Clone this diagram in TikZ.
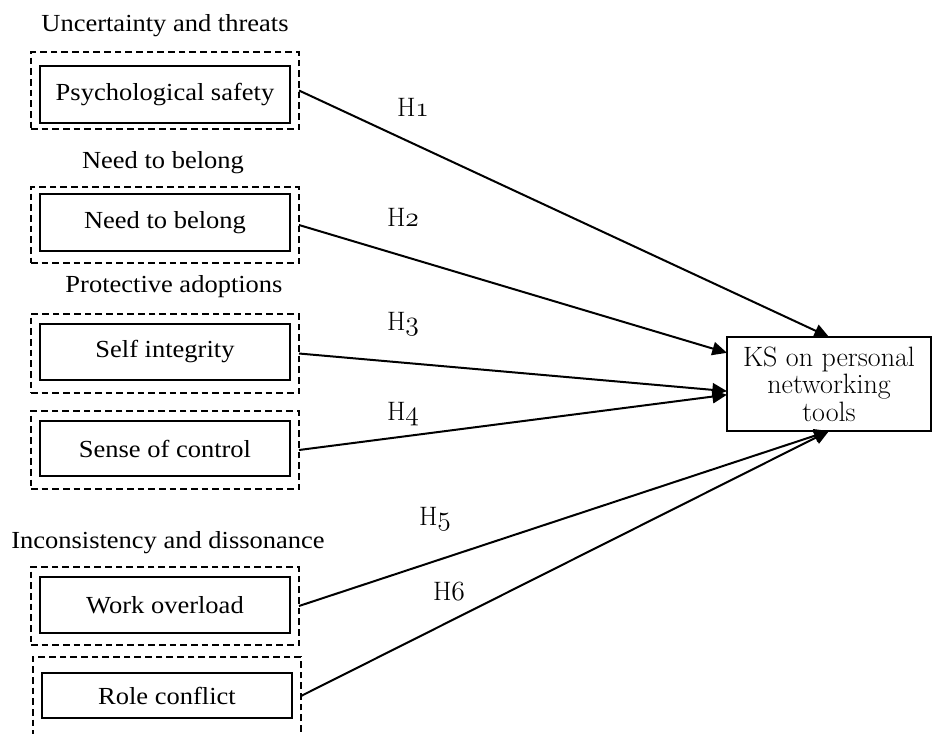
\documentclass[tikz,border=0pt]{standalone}
\usepackage{fontspec}
\newfontfamily\tnr[FakeStretch=1.08]{Liberation Serif}
\newcommand\osnum[1]{{\usefont{OML}{lmm}{m}{it}#1}}
\usetikzlibrary{arrows.meta}
\begin{document}
\begin{tikzpicture}[x=0.75pt, y=-0.75pt,
		every node/.style = {inner sep=0pt, outer sep=0pt},
		outbox/.style = {draw, line width=1.1pt, dash pattern=on 5pt off 3pt, minimum width=268*0.75pt},
		inbox/.style = {draw, line width=1.1pt, minimum width=250*0.75pt, font=\tnr\fontsize{18.4}{22}\selectfont},
		group/.style = {anchor=base, font=\tnr\fontsize{18.4}{22}\selectfont},
		hyp/.style = {anchor=base west, font=\fontsize{20}{22}\selectfont},
		link/.style = {line width=1.5pt, -{Triangle[length=11pt, width=10pt]}}]
		\clip (0,0) rectangle (933,733);
		\node[group] (g1) at (165,31) {Uncertainty and threats};
		\node[outbox, minimum height=77*0.75pt] (o1) at (165,90.5) {};
		\node[inbox, minimum height=57*0.75pt] (psy) at (165,94.5) {Psychological safety};
		\node[group] (g2) at (163,168) {Need to belong};
		\node[outbox, minimum height=76*0.75pt] (o2) at (165,225) {};
		\node[inbox, minimum height=57*0.75pt] (ntb) at (165,222.5) {Need to belong};
		\node[group] (g3) at (174,292.5) {Protective adoptions};
		\node[outbox, minimum height=79*0.75pt] (o3) at (165,353.5) {};
		\node[inbox, minimum height=56*0.75pt] (sint) at (165,352) {Self integrity};
		\node[outbox, minimum height=78*0.75pt] (o4) at (165,450) {};
		\node[inbox, minimum height=55*0.75pt] (sctl) at (165,448.5) {Sense of control};
		\node[group] (g4) at (168,548) {Inconsistency and dissonance};
		\node[outbox, minimum height=84*0.75pt] (o6) at (167,699) {};
		\node[outbox, minimum height=78*0.75pt] (o5) at (165,606) {};
		\node[inbox, minimum height=56*0.75pt] (wovl) at (165,605) {Work overload};
		\node[inbox, minimum height=45*0.75pt] (rcfl) at (167,695.5) {Role conflict};
		\node[draw, line width=1.1pt, minimum width=204*0.75pt, minimum height=94*0.75pt,
			align=center, font=\fontsize{21}{20.5}\selectfont] (ks) at (829,384)
			{KS on personal\\networking\\tools};
		\draw[link] (o1.east) -- (ks.north);
		\draw[link] (o2.east) -- (ks.163);
		\draw[link] (o3.east) -- (ks.184);
		\draw[link] (o4.east) -- (ks.186);
		\draw[link] (o5.east) -- (ks.south);
		\draw[link] ([yshift=3*0.75pt]o6.east) -- (ks.south);
		\node[hyp] (h1) at (397,116) {H\osnum{1}};
		\node[hyp] (h2) at (387,226) {H\osnum{2}};
		\node[hyp] (h3) at (387,330) {H\osnum{3}};
		\node[hyp] (h4) at (387,420) {H\osnum{4}};
		\node[hyp] (h5) at (419,525) {H\osnum{5}};
		\node[hyp] (h6) at (433,600) {H\osnum{6}};
		\end{tikzpicture}
\end{document}
